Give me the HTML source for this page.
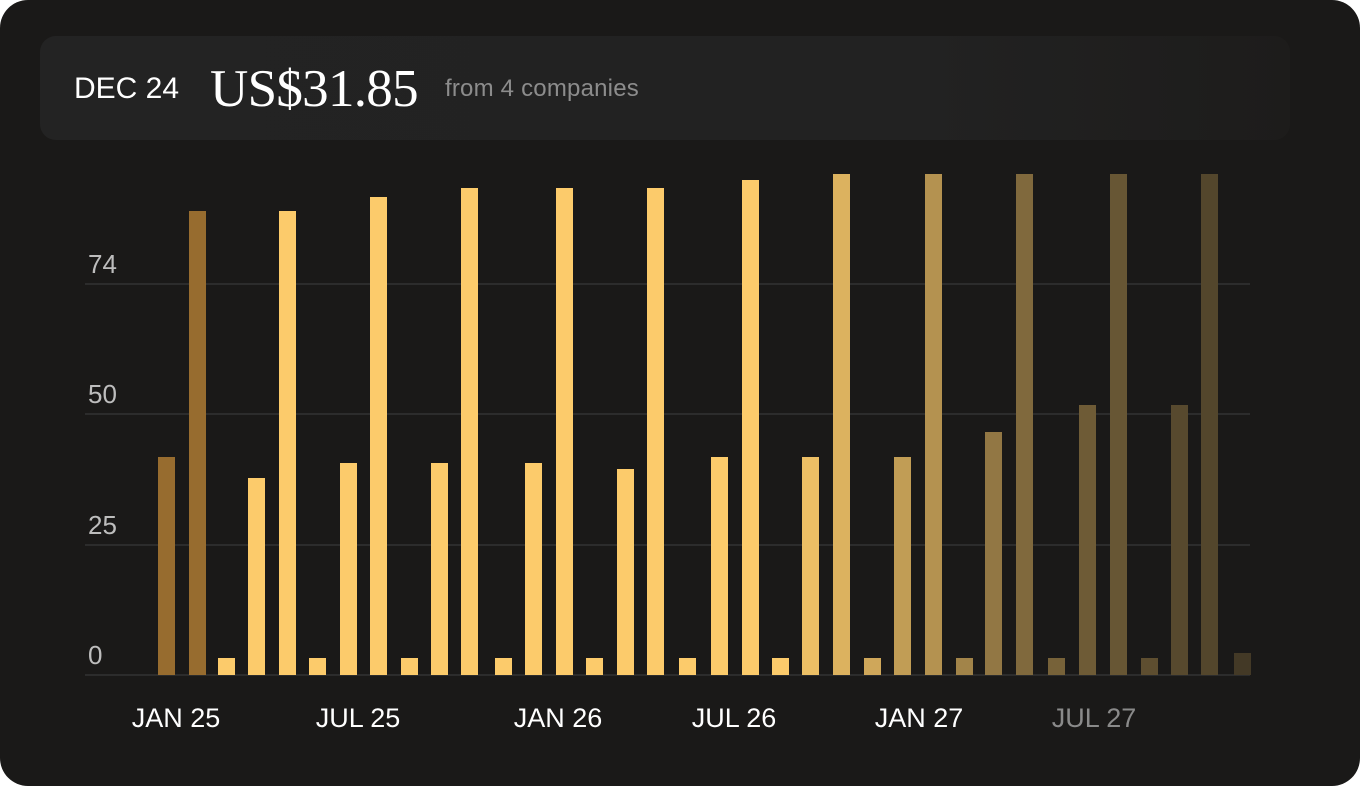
<!DOCTYPE html>
<html><head><style>
html,body{margin:0;padding:0;background:#fff;}
.card{position:absolute;left:0;top:0;width:1360px;height:786px;background:#1a1918;border-radius:28px;overflow:hidden;font-family:"Liberation Sans",sans-serif;}
.hdr{position:absolute;left:40px;top:36px;width:1250px;height:104px;border-radius:16px;background:linear-gradient(90deg,#232323,#222 70%,#1d1c1b);}
.t{position:absolute;white-space:nowrap;line-height:1;}
</style></head><body>
<div class="card">
<div class="hdr"></div>
<div class="t" style="left:74px;top:74px;font-size:30px;color:#fff;letter-spacing:0px;">DEC 24</div>
<div class="t" style="left:210px;top:63px;font-size:53px;color:#fff;font-family:'Liberation Serif',serif;letter-spacing:-0.7px;">US$31.85</div>
<div class="t" style="left:445px;top:77px;font-size:24px;color:#8c8c8c;letter-spacing:0.2px;">from 4 companies</div>
<svg width="1360" height="786" style="position:absolute;left:0;top:0">
<g stroke="#333" stroke-width="1.5">
<line x1="85" y1="284" x2="1250" y2="284"/>
<line x1="85" y1="414" x2="1250" y2="414"/>
<line x1="85" y1="545" x2="1250" y2="545"/>
<line x1="85" y1="675" x2="1250" y2="675"/>
</g>
<g font-family="Liberation Sans" font-size="26" fill="#bdbdbd">
<text x="88" y="273">74</text><text x="88" y="403">50</text><text x="88" y="534">25</text><text x="88" y="664">0</text>
</g>
<g id="bars"></g>
<g font-family="Liberation Sans" font-size="27" fill="#fff" text-anchor="middle">
<text x="176" y="727">JAN 25</text><text x="358" y="727">JUL 25</text><text x="558" y="727">JAN 26</text><text x="734" y="727">JUL 26</text><text x="919" y="727">JAN 27</text><text x="1094" y="727" fill="#8a8a8a">JUL 27</text>
</g>
</svg>
</div>
<script>
var d=[[158,457,'#976c2f'],[189,211,'#976c2f'],[218,658,1],[248,478,1],[279,211,1],[309,658,1],[340,463,1],[370,197,1],[401,658,1],[431,463,1],[461,188,1],[495,658,1],[525,463,1],[556,188,1],[586,658,1],[617,469,1],[647,188,1],[679,658,1],[711,457,1],[742,180,1],[772,658,1],[802,457,.93],[833,174,.86],[864,658,.8],[894,457,.74],[925,174,.68],[956,658,.6],[985,432,.53],[1016,174,.45],[1048,658,.41],[1079,405,.37],[1110,174,.34],[1141,658,.3],[1171,405,.27],[1201,174,.25],[1234,653,.18]];
var g=document.getElementById('bars'),s='';
d.forEach(function(b){var c=b[2];if(typeof c=='number'){var bg=[26,25,23],go=[252,203,107];c='rgb('+bg.map(function(v,i){return Math.round(v+c*(go[i]-v))}).join(',')+')';}
s+='<rect x="'+b[0]+'" y="'+b[1]+'" width="17" height="'+(675-b[1])+'" fill="'+c+'"/>';});
g.innerHTML=s;
</script>
</body></html>
